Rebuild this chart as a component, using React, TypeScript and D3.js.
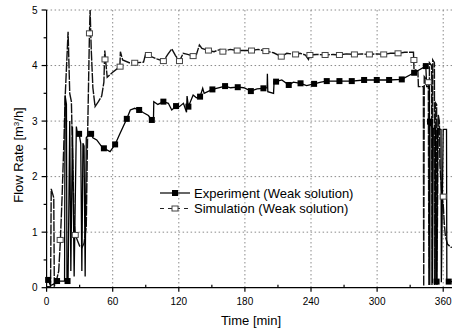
import React from "react";
import * as d3 from "d3";

// ---- data ----
const xTicks = [0, 60, 120, 180, 240, 300, 360];
const xMinorTicks = [30, 90, 150, 210, 270, 330];
const yTicks = [0, 1, 2, 3, 4, 5];
const yMinorTicks = [0.5, 1.5, 2.5, 3.5, 4.5];

const seriesNames = ["Experiment (Weak solution)", "Simulation (Weak solution)"];

// Experiment: time [min], flow rate [m3/h]
const expLine: [number, number][] = [
  [0, 0.15], [1.4, 0.14], [3.5, 0.04], [6, 0.06], [9.5, 0.12], [12, 0.12], [16.3, 0.12],
  [16.8, 3.46], [18, 3.3], [18.5, 0.12], [19.5, 0.12], [21, 3.0], [22, 0.3], [23.5, 2.9],
  [25, 0.2], [27, 2.9], [28, 2.77], [29.5, 2.77], [31, 2.6], [32, 0.3], [33, 2.6], [34, 2.55],
  [35, 0.2], [36, 2.7], [38, 2.75], [40.4, 2.77], [42, 2.7], [45.5, 2.66], [50, 2.54],
  [52, 2.51], [57.6, 2.45], [62.2, 2.58], [66, 2.75], [72.8, 3.04], [76, 3.2], [80, 3.23],
  [84, 3.2], [88, 3.15], [92.4, 3.1], [95.5, 3.02], [97, 3.02], [97.3, 3.35], [101, 3.3],
  [106, 3.35], [110.5, 3.32], [113.6, 3.2], [117.5, 3.27], [120.5, 3.26], [124.2, 3.32],
  [127, 3.16], [127.5, 3.45], [128.7, 3.26], [133, 3.47], [136, 3.42], [139.3, 3.44],
  [141.7, 3.59], [143, 3.5], [150.5, 3.57], [156, 3.6], [162, 3.63], [167, 3.6],
  [173.5, 3.61], [179, 3.6], [185.4, 3.54], [191, 3.58], [196.8, 3.59], [200.2, 3.6],
  [200.4, 3.85], [200.8, 3.53], [206, 3.5], [206.5, 3.71], [208.3, 3.71], [213.5, 3.74],
  [219.8, 3.65], [224, 3.7], [230.5, 3.68], [236, 3.64], [242.8, 3.67], [249, 3.7],
  [254.3, 3.72], [265.8, 3.72], [277, 3.72], [288.2, 3.74], [299.7, 3.74], [310.9, 3.74],
  [322.4, 3.75], [333.6, 3.87], [344.2, 3.99], [345, 3.62], [347.5, 3.62], [347.8, 0.05],
  [348, 2.99], [350, 2.87], [350.3, 0.08], [351, 2.87], [353, 2.87], [353.3, 0.1],
  [354, 0.11], [355, 2.87], [358, 2.85], [358.3, 0.1], [360, 2.85], [363, 2.85],
  [363.3, 0.1], [365, 0.11], [370, 0.11],
];
const expMarkers: [number, number][] = [
  [1.4, 0.14], [9.5, 0.12], [19, 0.12], [29.5, 2.77], [40.4, 2.77], [52, 2.51], [62.2, 2.58],
  [72.8, 3.04], [84, 3.2], [95.5, 3.02], [106, 3.35], [117.5, 3.27], [128.7, 3.26],
  [139.3, 3.44], [150.5, 3.57], [162, 3.63], [173.5, 3.61], [185.4, 3.54], [196.8, 3.59],
  [208.3, 3.71], [219.8, 3.65], [230.5, 3.68], [242.8, 3.67], [254.3, 3.72], [265.8, 3.72],
  [277, 3.72], [288.2, 3.74], [299.7, 3.74], [310.9, 3.74], [322.4, 3.75], [333.6, 3.87],
  [344.2, 3.99], [348, 2.99], [354, 0.11], [365, 0.11],
];

// Simulation
const simLine: [number, number][] = [
  [0, 0.02], [3.6, 0.02], [4.2, 1.78], [6.5, 1.62], [7, 0.03], [8, 0.05], [11, 0.3],
  [12.5, 0.85], [14, 1.6], [15.5, 2.5], [17, 3.5], [19.5, 4.61], [21, 3.5], [22.5, 3.35],
  [24, 2.0], [25, 1.2], [26, 0.95], [28, 0.85], [30, 0.75], [32, 0.72], [34, 0.8],
  [36, 1.1], [37, 2.5], [38.9, 4.58], [39.5, 5.0], [40.5, 4.3], [42, 3.6], [44, 3.26],
  [47, 3.35], [50, 3.45], [52, 3.7], [52.8, 4.27], [53.5, 4.11], [55, 3.79], [60, 3.88],
  [66.5, 3.98], [67, 4.25], [69, 4.1], [75, 4.05], [80, 4.05], [88, 4.06], [90, 4.22],
  [94, 4.17], [100, 4.12], [106, 4.08], [110, 4.2], [113.6, 4.3], [117, 4.18], [120.6, 4.08],
  [124, 4.22], [128, 4.2], [133, 4.17], [136, 4.2], [138.7, 4.37], [141, 4.31],
  [146.9, 4.27], [152, 4.25], [157.5, 4.29], [160, 4.25], [166.6, 4.29], [173, 4.27],
  [180, 4.27], [186, 4.27], [192, 4.29], [199, 4.26], [206, 4.23], [213, 4.16], [218, 4.22],
  [226, 4.2], [230, 4.22], [235, 4.19], [237.7, 4.11], [239, 4.19], [245, 4.2],
  [252.8, 4.19], [260, 4.2], [265.8, 4.19], [272, 4.21], [279.4, 4.2], [286, 4.21],
  [293, 4.2], [300, 4.21], [306, 4.2], [312, 4.22], [319, 4.22], [325, 4.24], [333, 4.24],
  [333.5, 3.93], [337, 3.9], [337.5, 3.62], [342, 3.62], [342.3, 0.03], [342.8, 3.8],
  [346.5, 3.7], [347, 0.05], [347.5, 4.05], [349.5, 4.0], [349.8, 0.05], [350.5, 4.1],
  [352, 4.05], [352.3, 0.05], [353, 3.33], [354, 3.3], [354.3, 0.05], [355.5, 3.11],
  [356.5, 3.0], [357, 2.2], [358.5, 1.75], [360, 1.5], [361, 1.15], [362, 0.92],
  [364, 0.78], [367, 0.73], [370, 0.72],
];
const simMarkers: [number, number][] = [
  [12.3, 0.86], [26, 0.95], [38.9, 4.58], [53, 4.11], [66.7, 3.98], [80, 4.05], [92.4, 4.19],
  [106, 4.08], [120.6, 4.08], [133, 4.17], [146.9, 4.27], [160, 4.25], [173, 4.27],
  [186, 4.27], [199, 4.26], [213, 4.16], [226, 4.2], [239, 4.19], [252.8, 4.19],
  [265.8, 4.19], [279.4, 4.2], [293, 4.2], [306, 4.2], [319, 4.22], [333.4, 4.1],
  [346.5, 3.7], [360, 1.64],
];

const W = 452;
const H = 332;
const FONT = "'Liberation Sans', Arial, sans-serif";

export default function App() {
  const x = d3.scaleLinear().domain([0, 370]).range([46.6, 46.6 + 370 * 1.1017]);
  const y = d3.scaleLinear().domain([0, 5]).range([287.7, 10]);
  const line = d3
    .line<[number, number]>()
    .x((d) => x(d[0]))
    .y((d) => y(d[1]));

  const x0 = x(0);
  const yb = y(0);
  const ms = 6;

  return (
    <svg
      width={W}
      height={H}
      style={{ position: "absolute", left: 0, top: 0, background: "#fff" }}
      fontFamily={FONT}
    >
      <rect x={0} y={0} width={W} height={H} fill="#fff" />
      {/* grid */}
      <g stroke="#8a8a8a" strokeWidth={1} strokeDasharray="1.5,2.5">
        {xTicks
          .filter((t) => t > 0)
          .map((t) => (
            <line key={"gx" + t} x1={x(t)} x2={x(t)} y1={y(5)} y2={yb} />
          ))}
        {yTicks
          .filter((t) => t > 0)
          .map((t) => (
            <line key={"gy" + t} x1={x0} x2={W} y1={y(t)} y2={y(t)} />
          ))}
      </g>

      {/* series */}
      <path d={line(simLine) || ""} fill="none" stroke="#111" strokeWidth={1.4} strokeDasharray="10,1.2" />
      <path d={line(expLine) || ""} fill="none" stroke="#000" strokeWidth={1.3} />
      {simMarkers.map((d, i) => (
        <rect
          key={"sm" + i}
          x={x(d[0]) - ms / 2}
          y={y(d[1]) - ms / 2 + 0.5}
          width={ms}
          height={ms - 1}
          fill="#fff"
          stroke="#444"
          strokeWidth={1}
        />
      ))}
      {expMarkers.map((d, i) => (
        <rect
          key={"em" + i}
          x={x(d[0]) - ms / 2}
          y={y(d[1]) - ms / 2}
          width={ms}
          height={ms}
          fill="#000"
        />
      ))}

      {/* axes */}
      <g stroke="#000" strokeWidth={1.2}>
        <line x1={x0} x2={x0} y1={y(5)} y2={yb} />
        <line x1={x0} x2={W} y1={yb} y2={yb} />
        {yTicks.map((t) => (
          <line key={"yt" + t} x1={x0 - 5} x2={x0} y1={y(t)} y2={y(t)} />
        ))}
        {yMinorTicks.map((t) => (
          <line key={"ymt" + t} x1={x0 - 3} x2={x0} y1={y(t)} y2={y(t)} />
        ))}
        {xTicks.map((t) => (
          <line key={"xt" + t} x1={x(t)} x2={x(t)} y1={yb} y2={yb + 4} />
        ))}
        {xMinorTicks.map((t) => (
          <line key={"xmt" + t} x1={x(t)} x2={x(t)} y1={yb - 3} y2={yb} />
        ))}
      </g>
      <g fontSize={10} fill="#000">
        {yTicks.map((t) => (
          <text key={"yl" + t} x={x0 - 9} y={y(t) + 3.5} textAnchor="end">
            {t}
          </text>
        ))}
        {xTicks.map((t) => (
          <text key={"xl" + t} x={x(t)} y={yb + 17} textAnchor="middle">
            {t}
          </text>
        ))}
      </g>
      <text x={251} y={325} fontSize={13} textAnchor="middle">
        Time [min]
      </text>
      <text
        transform={`translate(23,155) rotate(-90)`}
        fontSize={13}
        textAnchor="middle"
      >
        Flow Rate [m
        <tspan baselineShift="super" fontSize={8}>
          3
        </tspan>
        /h]
      </text>

      {/* legend */}
      <g fontSize={13}>
        <line x1={160} x2={190} y1={193} y2={193} stroke="#000" strokeWidth={1.2} />
        <rect x={175 - ms / 2} y={193 - ms / 2} width={ms} height={ms} fill="#000" />
        <text x={194} y={197.5}>{seriesNames[0]}</text>
        <line x1={160} x2={190} y1={208.5} y2={208.5} stroke="#222" strokeWidth={1.2} strokeDasharray="4,4" />
        <rect x={175 - ms / 2} y={208.5 - ms / 2 + 0.5} width={ms} height={ms - 1} fill="#fff" stroke="#444" />
        <text x={194} y={213}>{seriesNames[1]}</text>
      </g>
    </svg>
  );
}
